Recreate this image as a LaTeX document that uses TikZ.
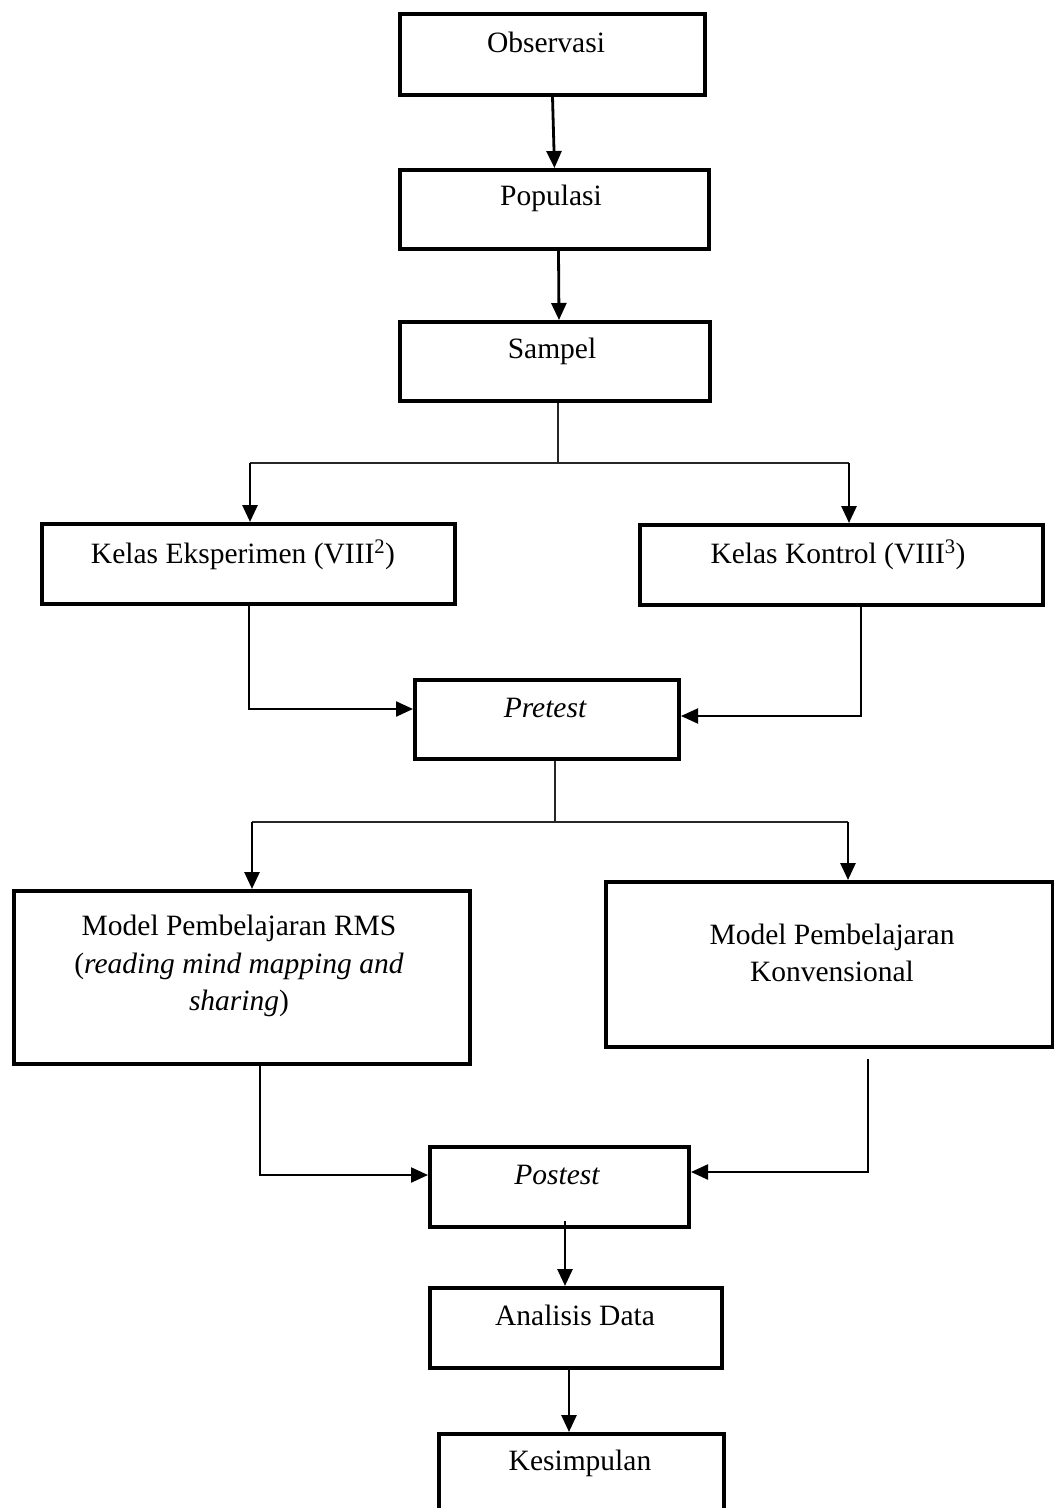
\documentclass[tikz,border=0pt]{standalone}
\usepackage{fontspec}
\setmainfont{Liberation Serif}
\usetikzlibrary{arrows.meta,calc}
\begin{document}
\begin{tikzpicture}[x=1pt,y=-1pt,
  box/.style={draw, line width=4pt, inner sep=0pt, anchor=north west},
  txt/.style={font=\fontsize{29.5}{37.5}\selectfont, inner sep=0pt, align=center},
  arr/.style={line width=2.8pt, -{Triangle[length=17pt,width=15pt]}},
  thinl/.style={line width=1.4pt, draw=black!85}]
\clip (0,0) rectangle (1054,1508);
\fill[white] (0,0) rectangle (1054,1508);

% boxes
\node[box, minimum width=305pt, minimum height=81pt] (obs) at (398,12) {};
\node[box, minimum width=309pt, minimum height=79pt] (pop) at (398,168) {};
\node[box, minimum width=310pt, minimum height=79pt] (samp) at (398,320) {};
\node[box, minimum width=413pt, minimum height=80pt] (eks) at (40,522) {};
\node[box, minimum width=403pt, minimum height=80pt] (kon) at (638,523) {};
\node[box, minimum width=264pt, minimum height=79pt] (pre) at (413,678) {};
\node[box, minimum width=456pt, minimum height=173pt] (rms) at (12,889) {};
\node[box, minimum width=447pt, minimum height=165pt] (konv) at (604,880) {};
\node[box, minimum width=259pt, minimum height=80pt] (post) at (428,1145) {};
\node[box, minimum width=292pt, minimum height=80pt] (ana) at (428,1286) {};
\node[box, minimum width=285pt, minimum height=110pt] (kes) at (437,1432) {};

% texts
\node[txt, anchor=base] (obsT) at (546,52) {Observasi};
\node[txt, anchor=base] (popT) at (551,205) {Populasi};
\node[txt, anchor=base] (sampT) at (552,358) {Sampel};
\node[txt, anchor=base] (eksT) at (243,563) {Kelas Eksperimen (VIII\textsuperscript{2})};
\node[txt, anchor=base] (konT) at (838,563) {Kelas Kontrol (VIII\textsuperscript{3})};
\node[txt, anchor=base] (preT) at (545,717) {\itshape Pretest};
\node[txt] (rmsT) at (239,966) {Model Pembelajaran RMS\\(\textit{reading mind mapping and}\\\textit{sharing})};
\node[txt] (konvT) at (832,953) {Model Pembelajaran\\Konvensional};
\node[txt, anchor=base] (postT) at (557,1184) {\itshape Postest};
\node[txt, anchor=base] (anaT) at (575,1325) {Analisis Data};
\node[txt, anchor=base] (kesT) at (580,1470) {Kesimpulan};

% junction coordinates
\coordinate (j1) at (558,463);
\coordinate (j1l) at (250,463);
\coordinate (j1r) at (849,463);
\coordinate (e1) at (249,709);
\coordinate (k1) at (861,716);
\coordinate (j2) at (555,822);
\coordinate (j2l) at (252,822);
\coordinate (j2r) at (848,822);
\coordinate (r1) at (260,1175);
\coordinate (c1) at (868,1172);
\coordinate (a1) at (565,0);
\coordinate (a2) at (569,0);

% connectors
\draw[arr] (obs.south) -- (pop.north);
\draw[arr] ($(pop.south)+(4,0)$) -- ($(samp.north)+(4,0)$);
\draw[thinl] (samp.south -| j1) -- (j1);
\draw[thinl] (j1l) -- (j1r);
\draw[arr] (j1l) -- (eks.north -| j1l);
\draw[arr] (j1r) -- (kon.north -| j1r);
\draw[arr, line width=2.3pt] (eks.south -| e1) -- (e1) -- (pre.west |- e1);
\draw[arr, line width=2pt] (kon.south -| k1) -- (k1) -- (pre.east |- k1);
\draw[thinl] (pre.south -| j2) -- (j2);
\draw[thinl] (j2l) -- (j2r);
\draw[arr] (j2l) -- (rms.north -| j2l);
\draw[arr] (j2r) -- (konv.north -| j2r);
\draw[arr, line width=2.3pt] (rms.south -| r1) -- (r1) -- (post.west |- r1);
\draw[arr, line width=2.3pt, shorten <=10pt] (konv.south -| c1) -- (c1) -- (post.east |- c1);
\draw[arr] ($(post.south -| a1)+(0,-8)$) -- (ana.north -| a1);
\draw[arr] (ana.south -| a2) -- (kes.north -| a2);
\end{tikzpicture}
\end{document}
